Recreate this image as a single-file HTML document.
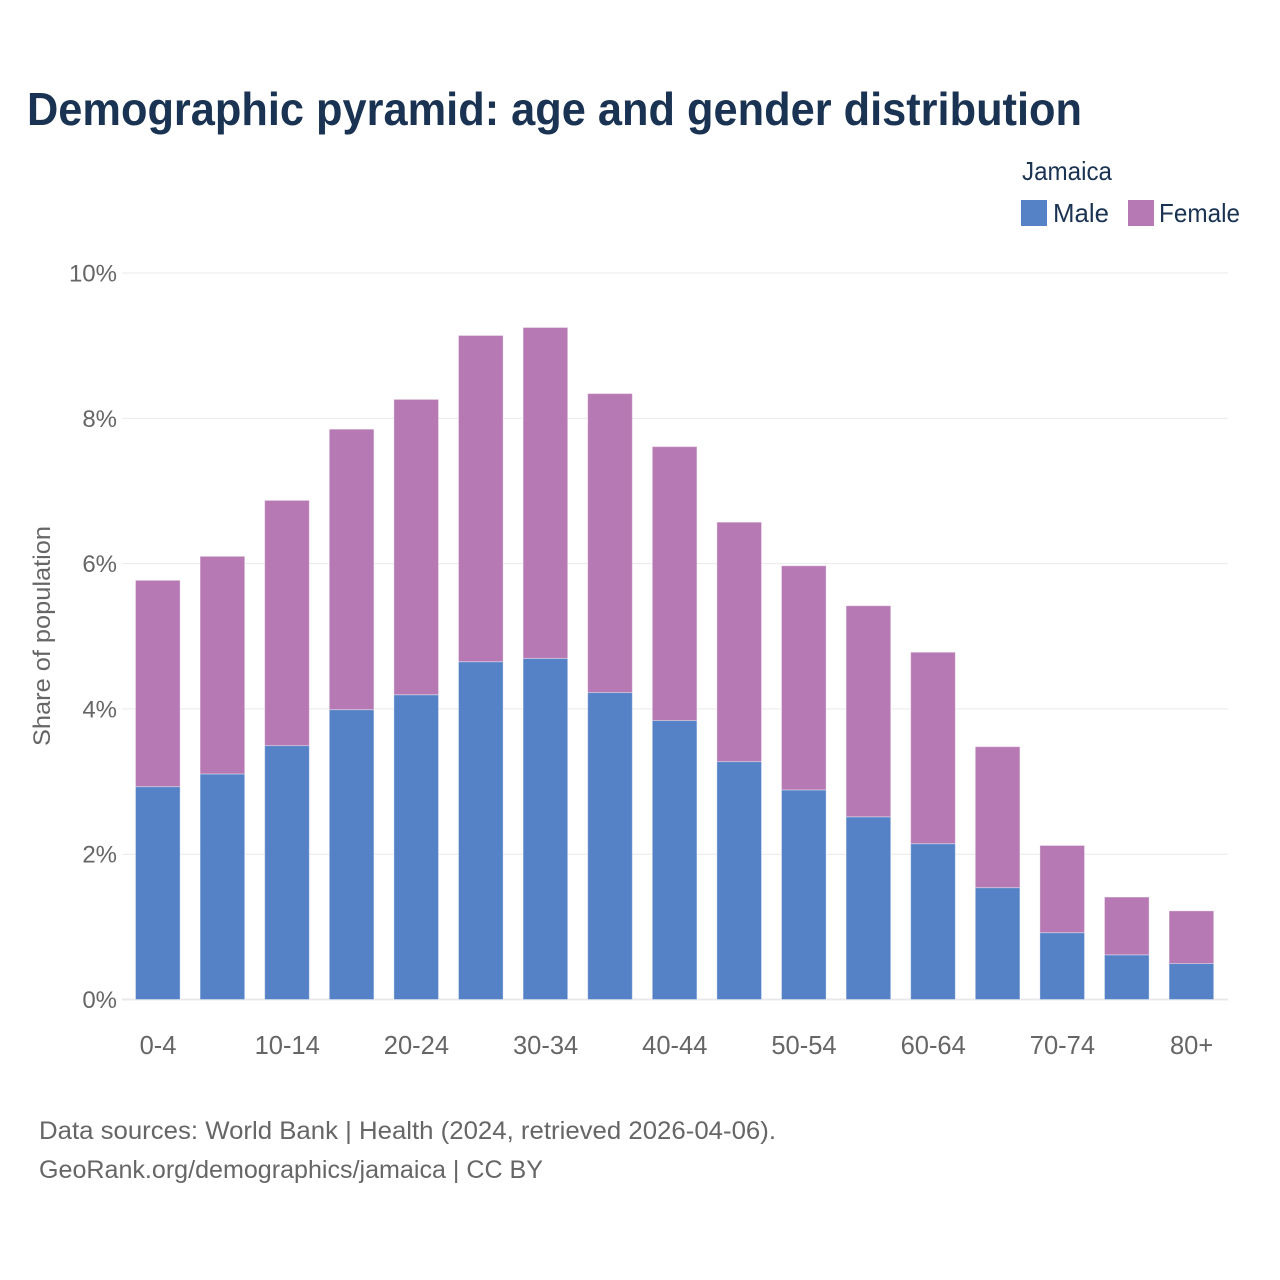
<!DOCTYPE html>
<html lang="en">
<head>
<meta charset="utf-8">
<title>Demographic pyramid: age and gender distribution</title>
<style>
html,body{margin:0;padding:0;background:#fff;}
svg{display:block;font-family:"Liberation Sans",sans-serif;}
</style>
</head>
<body>
<svg id="chart" xmlns="http://www.w3.org/2000/svg" width="1280" height="1280" viewBox="0 0 1280 1280">
  <rect x="0" y="0" width="1280" height="1280" fill="#ffffff"/>
  <text x="27" y="125" font-size="46" font-weight="700" fill="#1a3353" textLength="1055" lengthAdjust="spacingAndGlyphs">Demographic pyramid: age and gender distribution</text>
  <g id="grid"></g>
  <g id="bars"></g>
  <g id="yticks"></g>
  <g id="xticks"></g>
  <text transform="translate(50,636) rotate(-90)" text-anchor="middle" font-size="24" fill="#666666" textLength="220" lengthAdjust="spacingAndGlyphs">Share of population</text>
  <g>
    <text x="1022" y="180" font-size="26" fill="#1a3353" textLength="90" lengthAdjust="spacingAndGlyphs">Jamaica</text>
    <g>
      <rect x="1021" y="200" width="26" height="26" fill="#5582c6"/>
      <text x="1053" y="222" font-size="26" fill="#1a3353" textLength="56" lengthAdjust="spacingAndGlyphs">Male</text>
    </g>
    <g>
      <rect x="1128" y="200" width="26" height="26" fill="#b779b3"/>
      <text x="1159" y="222" font-size="26" fill="#1a3353" textLength="81" lengthAdjust="spacingAndGlyphs">Female</text>
    </g>
  </g>
  <g>
    <text x="39" y="1139" font-size="25" fill="#666666" textLength="737" lengthAdjust="spacingAndGlyphs">Data sources: World Bank | Health (2024, retrieved 2026-04-06).</text>
    <text x="39" y="1178" font-size="25" fill="#666666" textLength="504" lengthAdjust="spacingAndGlyphs">GeoRank.org/demographics/jamaica | CC BY</text>
  </g>
</svg>
<script>
const categories = ["0-4","5-9","10-14","15-19","20-24","25-29","30-34","35-39","40-44","45-49","50-54","55-59","60-64","65-69","70-74","75-79","80+"];
const maleValues = [2.93,3.105,3.495,3.99,4.195,4.65,4.695,4.225,3.84,3.275,2.885,2.515,2.145,1.54,0.92,0.615,0.495];
const femaleValues = [2.84,2.995,3.375,3.86,4.065,4.49,4.555,4.115,3.77,3.295,3.085,2.905,2.635,1.94,1.20,0.795,0.725];
const yTickValues = [0,2,4,6,8,10];
const xTickLabels = ["0-4","","10-14","","20-24","","30-34","","40-44","","50-54","","60-64","","70-74","","80+"];

const SVG_NS = "http://www.w3.org/2000/svg";
function yScale(v) { return 999.5 - v * 72.65; }
function xCenter(i) { return 158 + i * 64.6; }
const barWidth = 44.6;

function make(tag, attrs, parent) {
  const el = document.createElementNS(SVG_NS, tag);
  for (const k in attrs) el.setAttribute(k, attrs[k]);
  parent.appendChild(el);
  return el;
}

const gridG = document.getElementById("grid");
const yG = document.getElementById("yticks");
yTickValues.forEach(function (t) {
  const y = yScale(t);
  const line = make("line", {x1: 122, x2: 1228, y1: y, y2: y, stroke: "#e9e9ec", "stroke-width": t === 0 ? 2 : 1}, gridG);
  
  
  const label = make("text", {x: 117, y: y + 8.5, "text-anchor": "end", "font-size": 24, fill: "#666666"}, yG);
  
  
  label.textContent = t + "%";
});

const barsG = document.getElementById("bars");
categories.forEach(function (cat, i) {
  const x = xCenter(i) - 0.2 - barWidth / 2;
  const m = maleValues[i], f = femaleValues[i];
  const maleRect = make("rect", {x: x, y: yScale(m), width: barWidth, height: yScale(0) - yScale(m), fill: "#5582c6", stroke: "#ffffff", "stroke-opacity": 0.35, "stroke-width": 1}, barsG);
  
  
  const femaleRect = make("rect", {x: x, y: yScale(m + f), width: barWidth, height: yScale(m) - yScale(m + f), fill: "#b779b3", stroke: "#ffffff", "stroke-opacity": 0.35, "stroke-width": 1}, barsG);
  
  
});

const xG = document.getElementById("xticks");
xTickLabels.forEach(function (lab, i) {
  if (!lab) return;
  const t = make("text", {x: xCenter(i), y: 1054, "text-anchor": "middle", "font-size": 25.5, fill: "#666666"}, xG);
  
  
  t.textContent = lab;
});
</script>
</body>
</html>
